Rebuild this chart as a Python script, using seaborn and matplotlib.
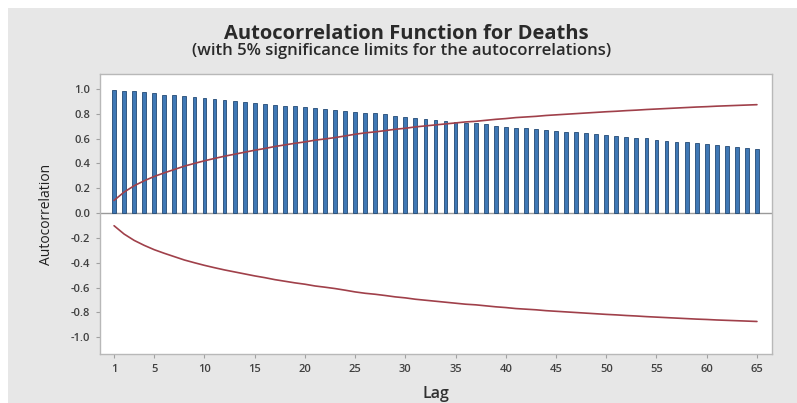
import matplotlib
matplotlib.use("Agg")
import matplotlib.pyplot as plt
import matplotlib.patches as mpatches
import seaborn as sns
import pandas as pd

# ---- data ----
lags = list(range(1, 66))
acf = [0.990, 0.987, 0.981, 0.973, 0.965, 0.954, 0.949, 0.941, 0.933, 0.925,
       0.920, 0.912, 0.903, 0.895, 0.887, 0.879, 0.874, 0.866, 0.860, 0.853,
       0.845, 0.836, 0.831, 0.823, 0.815, 0.807, 0.802, 0.794, 0.784, 0.775,
       0.764, 0.756, 0.748, 0.743, 0.735, 0.729, 0.724, 0.716, 0.705, 0.697,
       0.689, 0.684, 0.676, 0.668, 0.660, 0.654, 0.649, 0.641, 0.633, 0.627,
       0.619, 0.614, 0.606, 0.601, 0.590, 0.584, 0.576, 0.571, 0.563, 0.558,
       0.550, 0.544, 0.533, 0.528, 0.520]
limit = [0.102, 0.169, 0.220, 0.260, 0.295, 0.324, 0.351, 0.378, 0.400, 0.421,
         0.440, 0.458, 0.474, 0.490, 0.506, 0.520, 0.536, 0.549, 0.562, 0.573,
         0.587, 0.597, 0.608, 0.621, 0.635, 0.646, 0.654, 0.664, 0.675, 0.683,
         0.694, 0.702, 0.710, 0.718, 0.726, 0.734, 0.739, 0.747, 0.755, 0.761,
         0.769, 0.774, 0.779, 0.786, 0.791, 0.796, 0.801, 0.806, 0.811, 0.816,
         0.820, 0.825, 0.829, 0.834, 0.838, 0.842, 0.846, 0.850, 0.854, 0.857,
         0.861, 0.864, 0.867, 0.870, 0.873]
xticks = [1, 5, 10, 15, 20, 25, 30, 35, 40, 45, 50, 55, 60, 65]
yticks = [-1.0, -0.8, -0.6, -0.4, -0.2, 0.0, 0.2, 0.4, 0.6, 0.8, 1.0]
title = "Autocorrelation Function for Deaths"
subtitle = "(with 5% significance limits for the autocorrelations)"

df = pd.DataFrame({"Lag": lags, "ACF": acf,
                   "Upper": limit, "Lower": [-v for v in limit]})

sns.set_theme(style="white")
plt.rcParams["font.family"] = ["Open Sans", "DejaVu Sans"]

W, H = 797, 403
fig = plt.figure(figsize=(W / 100, H / 100), dpi=100, facecolor="white")
# grey panel (white strip at top and left as in the screenshot)
fig.patches.append(mpatches.Rectangle((8 / W, 0), 1 - 8 / W, 1 - 8 / H,
                                      transform=fig.transFigure,
                                      facecolor="#E7E7E7", edgecolor="none",
                                      zorder=-10))

ax = fig.add_axes([100 / W, (H - 354) / H, (772 - 100) / W, (354 - 74) / H])
ax.set_facecolor("white")

sns.barplot(data=df, x="Lag", y="ACF", native_scale=True, width=0.38,
            color="#3F78B5", edgecolor="#234A75", linewidth=0.6,
            saturation=1, ax=ax, zorder=3)
sns.lineplot(data=df, x="Lag", y="Upper", color="#A0404A", linewidth=1.2,
             ax=ax, zorder=4)
sns.lineplot(data=df, x="Lag", y="Lower", color="#A0404A", linewidth=1.2,
             ax=ax, zorder=4)

ax.axhline(0, color="#9A9A9A", linewidth=1.0, zorder=2)

ax.set_xlim(-0.4, 66.5)
ax.set_ylim(-1.135, 1.12)
ax.set_xticks(xticks)
ax.set_xticklabels([str(t) for t in xticks])
ax.set_yticks(yticks)
ax.set_yticklabels([f"{t:.1f}" for t in yticks])

for s in ax.spines.values():
    s.set_color("#B8B8B8")
    s.set_linewidth(1.0)
ax.tick_params(axis="both", which="major", length=3, width=0.8,
               color="#A0A0A0", labelsize=8, labelcolor="#404040",
               direction="out", bottom=True, left=True, pad=4)
for lab in ax.get_xticklabels() + ax.get_yticklabels():
    lab.set_fontweight("semibold")

ax.set_xlabel("Lag", fontsize=11.5, fontweight="semibold", color="#303030",
              labelpad=8)
ax.set_ylabel("Autocorrelation", fontsize=10, color="#202020", labelpad=12)

fig.text(406 / W, 1 - 34 / H, title, ha="center", va="center",
         fontsize=14.5, fontweight="bold", color="#2A2A2A")
fig.text(402 / W, 1 - 51 / H, subtitle, ha="center", va="center",
         fontsize=12, fontweight="semibold", color="#2A2A2A")

fig.savefig("out.png", dpi=100, facecolor=fig.get_facecolor())
